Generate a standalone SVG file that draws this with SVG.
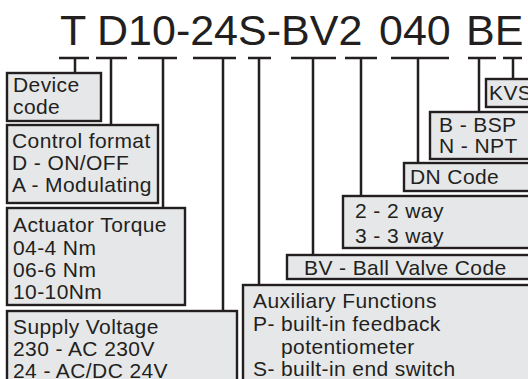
<svg xmlns="http://www.w3.org/2000/svg" width="528" height="379" viewBox="0 0 528 379">
<style>
.bx{fill:#e6e7e8;stroke:#231f20;stroke-width:2.4}
.t{font-family:"Liberation Sans",Arial,sans-serif;font-size:21px;letter-spacing:0.4px;fill:#231f20}
.title{font-family:"Liberation Sans",Arial,sans-serif;font-size:43px;fill:#231f20}
.c{stroke:#231f20;stroke-width:2.5;fill:none}
</style>
<rect width="528" height="379" fill="#ffffff"/>
<g id="title">
<text class="title" x="60" y="45">T</text>
<text class="title" x="97" y="45">D10-24S-BV2</text>
<text class="title" x="379" y="45">040</text>
<text class="title" x="466" y="45">BE</text>
</g>
<g id="connectors">
<path class="c" d="M59 58H89M75 58V73"/>
<path class="c" d="M96 58H127M111 58V125"/>
<path class="c" d="M138 58H177M163 58V208"/>
<path class="c" d="M193 58H236M223 58V311"/>
<path class="c" d="M248 58H271M259 58V285"/>
<path class="c" d="M291 58H336M313 58V255"/>
<path class="c" d="M345 58H377M361 58V196"/>
<path class="c" d="M391 58H449M418 58V163"/>
<path class="c" d="M468 58H496M479 58V112"/>
<path class="c" d="M503 58H522M513 58V79"/>
</g>
<g id="device-code">
<rect class="bx" x="7" y="73" width="94" height="48"/>
<text class="t" x="13" y="92">Device</text>
<text class="t" x="13" y="114">code</text>
</g>
<g id="control-format">
<rect class="bx" x="7" y="125" width="151" height="78"/>
<text class="t" x="12" y="148">Control format</text>
<text class="t" x="12" y="170">D - ON/OFF</text>
<text class="t" x="12" y="192">A - Modulating</text>
</g>
<g id="actuator-torque">
<rect class="bx" x="7" y="208" width="178" height="97"/>
<text class="t" x="13" y="232">Actuator Torque</text>
<text class="t" x="13" y="255">04-4 Nm</text>
<text class="t" x="13" y="277">06-6 Nm</text>
<text class="t" x="13" y="299">10-10Nm</text>
</g>
<g id="supply-voltage">
<rect class="bx" x="7" y="311" width="230" height="80"/>
<text class="t" x="13" y="334">Supply Voltage</text>
<text class="t" x="13" y="356">230 - AC 230V</text>
<text class="t" x="13" y="378">24 - AC/DC 24V</text>
</g>
<g id="auxiliary-functions">
<rect class="bx" x="243" y="285" width="300" height="110"/>
<text class="t" x="253" y="308">Auxiliary Functions</text>
<text class="t" x="253" y="331">P- built-in feedback</text>
<text class="t" x="281" y="354">potentiometer</text>
<text class="t" x="253" y="376">S- built-in end switch</text>
</g>
<g id="ball-valve-code">
<rect class="bx" x="287" y="255" width="250" height="24"/>
<text class="t" x="304" y="275">BV - Ball Valve Code</text>
</g>
<g id="way">
<rect class="bx" x="343" y="196" width="200" height="52"/>
<text class="t" x="355" y="218">2 - 2 way</text>
<text class="t" x="355" y="243">3 - 3 way</text>
</g>
<g id="dn-code">
<rect class="bx" x="404" y="163" width="140" height="28"/>
<text class="t" x="410" y="184">DN Code</text>
</g>
<g id="thread">
<rect class="bx" x="430" y="112" width="110" height="47"/>
<text class="t" x="439" y="132">B - BSP</text>
<text class="t" x="439" y="153">N - NPT</text>
</g>
<g id="kvs">
<rect class="bx" x="486" y="79" width="60" height="28"/>
<text class="t" x="489" y="100">KVS</text>
</g>
</svg>
